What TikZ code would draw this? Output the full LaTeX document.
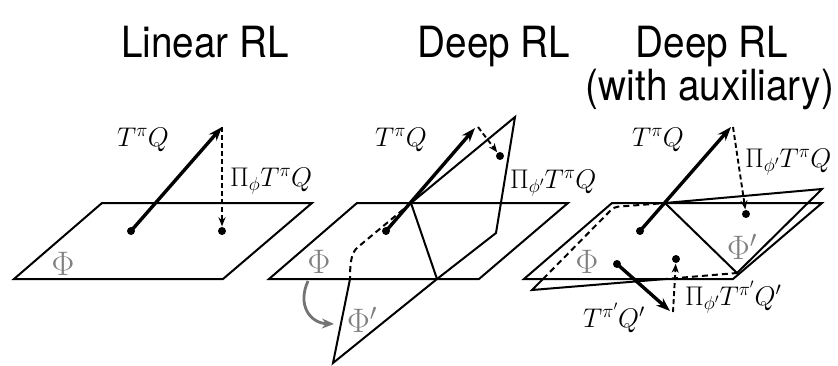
\RequirePackage{fix-cm}
\documentclass[tikz,border=0pt]{standalone}
\usepackage{fontspec}
\newfontfamily\titlefont[FakeStretch=0.9]{TeX Gyre Heros}
\usetikzlibrary{arrows.meta}
\begin{document}
\begin{tikzpicture}[x=1pt,y=-1pt,
  plane/.style={line width=2pt, line join=miter},
  hid/.style={line width=2pt, dash pattern=on 6pt off 4pt},
  big/.style={line width=3.4pt, -{Stealth[length=14pt,width=10pt]}},
  proj/.style={line width=1.9pt, dash pattern=on 5pt off 3pt, -{Stealth[length=9pt,width=7pt]}, shorten >=0.5pt},
  dot/.style={circle, fill, inner sep=0pt, minimum size=8pt},
  lbl/.style={font=\fontsize{27}{30}\selectfont, inner sep=0pt},
  phil/.style={font=\fontsize{34}{36}\selectfont, text=black!50, inner sep=0pt},
  ttl/.style={font=\titlefont\fontsize{43}{46}\selectfont, inner sep=0pt, anchor=base},
  garrow/.style={line width=2.8pt, draw=black!55, -{Stealth[length=12pt,width=10pt]}}
]
\useasboundingbox (0,0) rectangle (838,365);

% titles
\node[ttl] (h1) at (205,57) {Linear RL};
\node[ttl] (h2) at (494,57) {Deep RL};
\node[ttl] (h3) at (712,57) {Deep RL};
\node[ttl] (h4) at (710,100) {(with auxiliary)};

% ---------- panel 1 ----------
\coordinate (a1) at (14,279);
\coordinate (b1) at (223,279);
\coordinate (c1) at (312,203);
\coordinate (d1) at (102,203);
\draw[plane] (a1) -- (b1) -- (c1) -- (d1) -- cycle;
\node[dot] (s1) at (131,231) {};
\coordinate (t1) at (222,127);
\node[dot] (p1) at (222,231) {};
\draw[big] (s1.center) -- (t1);
\draw[proj] (t1) -- (p1);
\node[lbl] (l11) at (143,140) {$T^\pi Q$};
\node[lbl, anchor=west] (l12) at (230,181) {$\Pi_\phi T^\pi Q$};
\node[phil] (f1) at (63,264) {$\Phi$};

% ---------- panel 2 ----------
\coordinate (a2) at (269,279);
\coordinate (b2) at (479,279);
\coordinate (c2) at (568,203);
\coordinate (d2) at (357,203);
\draw[plane] (a2) -- (b2) -- (c2) -- (d2) -- cycle;
\coordinate (g1) at (411,203);
\coordinate (g2) at (515,117);
\coordinate (g3) at (496,233);
\coordinate (g4) at (437,279);
\coordinate (g5) at (333,363);
\coordinate (g6) at (350,279);
\coordinate (g7) at (358,247);
\draw[plane] (g1) -- (g2) -- (g3) -- (g4) -- (g5) -- (g6);
\draw[plane] (g1) -- (g4);
\draw[hid] (g1) -- (g7) .. controls (352,252) and (350,260) .. (g6);
\node[dot] (s2) at (386,231) {};
\coordinate (t2) at (475,128);
\coordinate (u2) at (478,127);
\node[dot] (p2) at (500,156) {};
\draw[big] (s2.center) -- (t2);
\draw[proj] (u2) -- (p2);
\node[lbl] (l21) at (401,140) {$T^\pi Q$};
\node[lbl, anchor=west] (l22) at (510,183) {$\Pi_{\phi'} T^\pi Q$};
\node[phil] (f2) at (319,262) {$\Phi$};
\node[phil] (f3) at (362,320) {$\Phi'$};
\coordinate (q1) at (308,281);
\coordinate (q2) at (334,324);
\draw[garrow] (q1) .. controls (297,305) and (310,323) .. (q2);

% ---------- panel 3 ----------
\coordinate (a3) at (524,279);
\coordinate (b3) at (733,279);
\coordinate (c3) at (822,203);
\coordinate (d3) at (612,203);
\draw[plane] (a3) -- (b3) -- (c3) -- (d3) -- cycle;
\coordinate (k1) at (532,290);
\coordinate (k2) at (543,279);
\coordinate (k3) at (614,207);
\coordinate (k4) at (665,203);
\coordinate (k5) at (822,189);
\coordinate (k6) at (737,273);
\coordinate (k7) at (662,279.3);
\draw[plane] (k2) -- (k1) -- (k7);
\draw[hid, rounded corners=4pt] (k2) -- (k3) -- (k4);
\draw[hid] (k7) -- (k6);
\draw[plane] (k4) -- (k5) -- (k6) -- cycle;
\node[dot] (s3) at (640,231) {};
\coordinate (t3) at (731,127);
\coordinate (u3) at (733,127);
\node[dot] (p3) at (746,214) {};
\draw[big] (s3.center) -- (t3);
\draw[proj] (u3) -- (p3);
\node[dot] (s4) at (617,264) {};
\coordinate (t4) at (670,311);
\coordinate (u4) at (673,312);
\node[dot] (p4) at (676,259) {};
\draw[big] (s4.center) -- (t4);
\draw[proj] (u4) -- (p4);
\node[lbl] (l31) at (658,140) {$T^\pi Q$};
\node[lbl, anchor=west] (l32) at (745,162) {$\Pi_{\phi'} T^\pi Q$};
\node[lbl] (l33) at (614,318) {$T^{\pi'} Q'$};
\node[lbl, anchor=west] (l34) at (685,297) {$\Pi_{\phi'} T^{\pi'} Q'$};
\node[phil] (f4) at (587,262) {$\Phi$};
\node[phil] (f5) at (742,247) {$\Phi'$};
\end{tikzpicture}
\end{document}
